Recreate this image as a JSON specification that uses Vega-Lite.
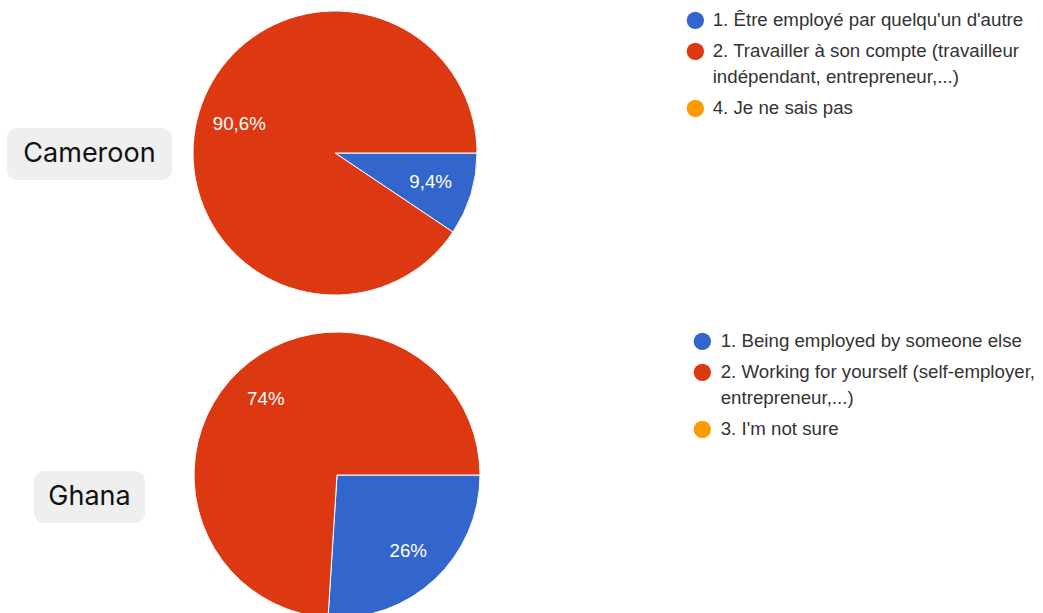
{
  "$schema": "https://vega.github.io/schema/vega-lite/v6.json",
  "padding": {"left": 7, "top": 9, "right": 0, "bottom": 0},
  "background": "white",
  "config": {
    "view": {"stroke": null},
    "style": {"guide-label": {"lineHeight": 26}},
    "locale": {"number": {"decimal": ",", "thousands": " ", "grouping": [3], "currency": ["", " €"]}}
  },
  "datasets": {
    "slices": [
      {"country": "Cameroon", "category": "1. Être employé par quelqu'un d'autre", "share": 0.094},
      {"country": "Cameroon", "category": "2. Travailler à son compte (travailleur indépendant, entrepreneur,...)", "share": 0.906},
      {"country": "Ghana", "category": "1. Being employed by someone else", "share": 0.26},
      {"country": "Ghana", "category": "2. Working for yourself (self-employer, entrepreneur,...)", "share": 0.74}
    ],
    "countries": [{"country": "Cameroon"}, {"country": "Ghana"}]
  },
  "spacing": 33,
  "resolve": {"scale": {"color": "independent", "theta": "independent"}, "legend": {"color": "independent"}},
  "vconcat": [
    {
      "spacing": 19,
      "center": true,
      "resolve": {"scale": {"color": "independent", "theta": "independent"}, "legend": {"color": "independent"}},
      "hconcat": [
        {
          "data": {"name": "countries"},
          "transform": [{"filter": "datum.country === 'Cameroon'"}],
          "width": 165,
          "height": 52,
          "view": {"fill": "#efefef", "cornerRadius": 10, "stroke": null},
          "mark": {"type": "text", "font": "Inter", "fontSize": 27, "color": "#111111"},
          "encoding": {"text": {"field": "country", "type": "nominal"}}
        },
        {
          "data": {"name": "slices"},
          "transform": [{"filter": "datum.country === 'Cameroon'"}],
          "width": 284,
          "height": 284,
          "encoding": {
            "theta": {"field": "share", "type": "quantitative", "stack": true, "scale": {"range": [1.5707963, 7.8539816]}},
            "order": {"field": "category", "sort": "ascending"}
          },
          "layer": [
            {
              "mark": {"type": "arc", "stroke": "white", "strokeWidth": 1},
              "encoding": {
                "color": {
                  "field": "category",
                  "type": "nominal",
                  "scale": {
                    "domain": ["1. Être employé par quelqu'un d'autre", "2. Travailler à son compte (travailleur indépendant, entrepreneur,...)", "4. Je ne sais pas"],
                    "range": ["#3366cc", "#dc3912", "#ff9900"]
                  },
                  "legend": {
                    "title": null,
                    "orient": "right",
                    "offset": 209,
                    "padding": 0,
                    "labelOffset": 8,
                    "rowPadding": 11,
                    "symbolType": "circle",
                    "symbolSize": 300,
                    "symbolStrokeWidth": 0,
                    "symbolOpacity": 1,
                    "labelFont": "Liberation Sans",
                    "labelFontSize": 18.7,
                    "labelColor": "#333333",
                    "labelLimit": 500,
                    "labelExpr": "datum.label === '2. Travailler à son compte (travailleur indépendant, entrepreneur,...)' ? ['2. Travailler à son compte (travailleur', 'indépendant, entrepreneur,...)'] : datum.label",
                    "encode": {"labels": {"lineHeight": {"value": 26}}}
                  }
                }
              }
            },
            {
              "mark": {"type": "text", "radius": 100, "fill": "white", "font": "Liberation Sans", "fontSize": 18.7},
              "encoding": {
                "text": {"field": "share", "type": "quantitative", "format": ".1~%"},
                "detail": {"field": "category", "type": "nominal"}
              }
            }
          ]
        }
      ]
    },
    {
      "spacing": 20,
      "center": true,
      "resolve": {"scale": {"color": "independent", "theta": "independent"}, "legend": {"color": "independent"}},
      "hconcat": [
        {
          "spacing": 0,
          "center": true,
          "vconcat": [
            {
              "data": {"values": []},
              "width": 165,
              "height": 42,
              "mark": {"type": "point", "opacity": 0},
              "encoding": {}
            },
            {
              "data": {"name": "countries"},
              "transform": [{"filter": "datum.country === 'Ghana'"}],
              "width": 111,
              "height": 52,
              "view": {"fill": "#efefef", "cornerRadius": 10, "stroke": null},
              "mark": {"type": "text", "font": "Inter", "fontSize": 27, "color": "#111111"},
              "encoding": {"text": {"field": "country", "type": "nominal"}}
            }
          ]
        },
        {
          "data": {"name": "slices"},
          "transform": [{"filter": "datum.country === 'Ghana'"}],
          "width": 286,
          "height": 286,
          "encoding": {
            "theta": {"field": "share", "type": "quantitative", "stack": true, "scale": {"range": [1.5707963, 7.8539816]}},
            "order": {"field": "category", "sort": "ascending"}
          },
          "layer": [
            {
              "mark": {"type": "arc", "stroke": "white", "strokeWidth": 1},
              "encoding": {
                "color": {
                  "field": "category",
                  "type": "nominal",
                  "scale": {
                    "domain": ["1. Being employed by someone else", "2. Working for yourself (self-employer, entrepreneur,...)", "3. I'm not sure"],
                    "range": ["#3366cc", "#dc3912", "#ff9900"]
                  },
                  "legend": {
                    "title": null,
                    "orient": "right",
                    "offset": 213,
                    "padding": 0,
                    "labelOffset": 9,
                    "rowPadding": 11,
                    "symbolType": "circle",
                    "symbolSize": 300,
                    "symbolStrokeWidth": 0,
                    "symbolOpacity": 1,
                    "labelFont": "Liberation Sans",
                    "labelFontSize": 18.7,
                    "labelColor": "#333333",
                    "labelLimit": 500,
                    "labelExpr": "datum.label === '2. Working for yourself (self-employer, entrepreneur,...)' ? ['2. Working for yourself (self-employer,', 'entrepreneur,...)'] : datum.label",
                    "encode": {"labels": {"lineHeight": {"value": 26}}}
                  }
                }
              }
            },
            {
              "mark": {"type": "text", "radius": 104, "fill": "white", "font": "Liberation Sans", "fontSize": 18.7},
              "encoding": {
                "text": {"field": "share", "type": "quantitative", "format": ".1~%"},
                "detail": {"field": "category", "type": "nominal"}
              }
            }
          ]
        }
      ]
    }
  ]
}
